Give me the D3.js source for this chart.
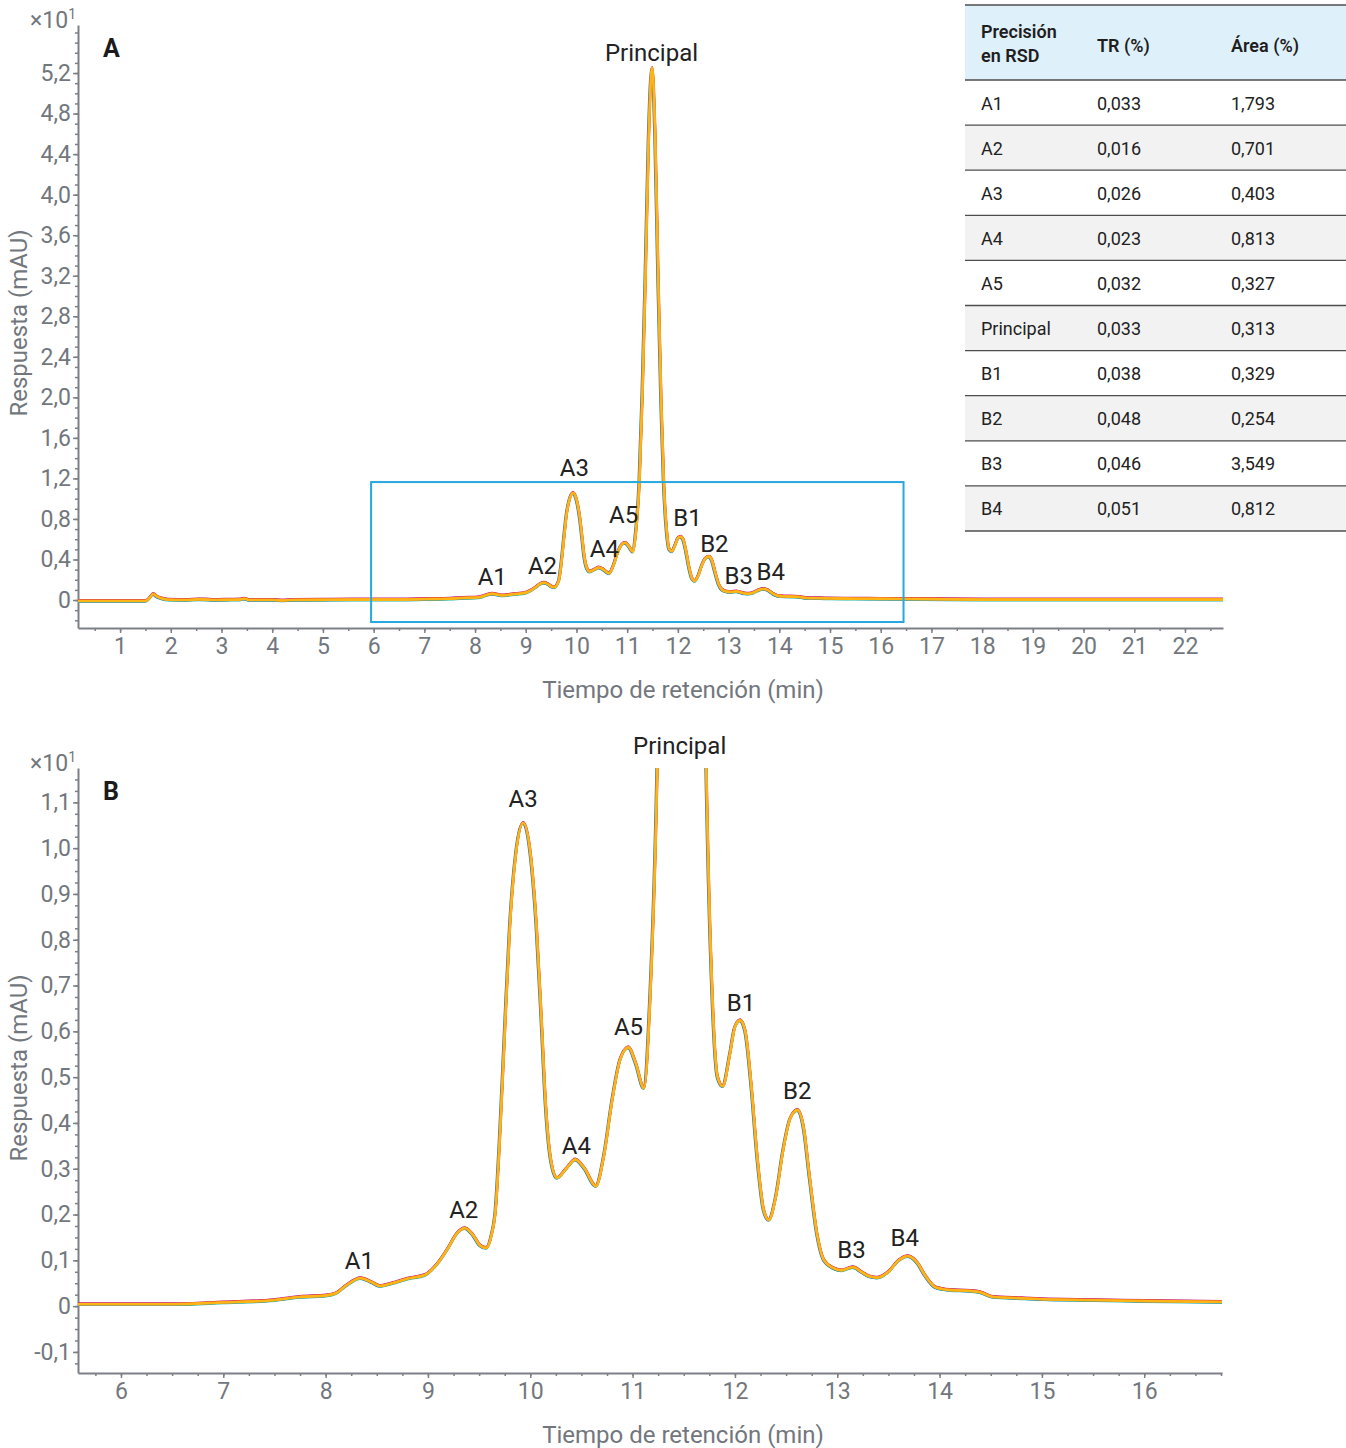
<html>

<head>
    <script src="https://cdn.jsdelivr.net/npm/d3@7/dist/d3.min.js" charset="utf-8"></script>
    <style>
        body { margin: 0; background: #fff; }
        text { font-family: Roboto, "Noto Sans", sans-serif; }
    </style>
</head>

<body>
    <script type="text/javascript">
        var width = 1346;
        var height = 1448;

        // Chromatogram (response in x10^1 mAU)
        var times = [0.17, 1.00, 1.50, 1.58, 1.65, 1.72, 1.82, 1.95, 2.30, 2.55, 2.70, 2.85, 3.20, 3.35, 3.45, 3.55,
            4.00, 4.20, 4.40, 5.00, 5.58, 6.50, 7.00, 7.50, 7.75, 8.00, 8.10, 8.20, 8.34, 8.45, 8.53, 8.65, 8.80,
            8.97, 9.10, 9.20, 9.28, 9.36, 9.44, 9.51, 9.57, 9.62, 9.66, 9.70, 9.75, 9.80, 9.86, 9.93, 10.00, 10.06,
            10.11, 10.15, 10.20, 10.26, 10.35, 10.44, 10.53, 10.64, 10.72, 10.80, 10.88, 10.96, 11.03, 11.11, 11.17,
            11.24, 11.30, 11.36, 11.42, 11.49, 11.55, 11.61, 11.67, 11.72, 11.78, 11.83, 11.88, 11.95, 12.00, 12.05,
            12.10, 12.16, 12.22, 12.28, 12.33, 12.40, 12.47, 12.54, 12.61, 12.67, 12.73, 12.80, 12.87, 12.96, 13.04,
            13.15, 13.24, 13.31, 13.39, 13.50, 13.60, 13.69, 13.78, 13.86, 13.96, 14.10, 14.30, 14.40, 14.52, 14.80,
            15.00, 15.50, 16.00, 16.80, 18.00, 20.00, 22.75];
        var response = [-0.010, -0.010, -0.010, 0.020, 0.060, 0.035, 0.015, 0.003, 0.000, 0.006, 0.004, 0.000, 0.003, 0.004, 0.012, 0.000,
            0.000, -0.005, 0.000, 0.002, 0.004, 0.004, 0.008, 0.013, 0.020, 0.023, 0.028, 0.045, 0.061, 0.052, 0.044, 0.050, 0.060,
            0.068, 0.095, 0.128, 0.158, 0.170, 0.155, 0.132, 0.127, 0.155, 0.210, 0.360, 0.600, 0.830, 0.990, 1.055, 0.990, 0.830,
            0.620, 0.440, 0.320, 0.280, 0.300, 0.320, 0.300, 0.262, 0.330, 0.450, 0.540, 0.565, 0.530, 0.476, 0.670,
            1.170, 2.050, 3.200, 4.500, 5.250, 4.600, 3.200, 1.950, 1.170, 0.670, 0.500, 0.480, 0.550, 0.610, 0.624,
            0.600, 0.480, 0.320, 0.210, 0.188, 0.240, 0.340, 0.410, 0.428, 0.390, 0.280, 0.160, 0.100, 0.083, 0.078,
            0.085, 0.074, 0.065, 0.062, 0.075, 0.100, 0.109, 0.095, 0.066, 0.041, 0.035, 0.033, 0.030, 0.020, 0.017,
            0.015, 0.013, 0.011, 0.009, 0.004, 0.004, 0.004];

        // Peak labels: name, time, response where the label sits (panel A / panel B)
        var peakNames = ["A1", "A2", "A3", "A4", "A5", "Principal", "B1", "B2", "B3", "B4"];
        var peakTimesA = [8.34, 9.33, 9.96, 10.55, 10.93, 11.48, 12.19, 12.72, 13.20, 13.83];
        var peakLabelA = [0.237, 0.345, 1.31, 0.513, 0.85, 5.40, 0.82, 0.56, 0.247, 0.286];
        var peakTimesB = [8.33, 9.35, 9.93, 10.45, 10.96, 11.46, 12.06, 12.61, 13.14, 13.66];
        var peakLabelB = [0.100, 0.212, 1.109, 0.352, 0.611, 1.225, 0.664, 0.472, 0.124, 0.151];

        // RSD table
        var tableHeader = [["Precisión", "en RSD"], ["TR (%)"], ["Área (%)"]];
        var trValues = ["0,033", "0,016", "0,026", "0,023", "0,032", "0,033", "0,038", "0,048", "0,046", "0,051"];
        var areaValues = ["1,793", "0,701", "0,403", "0,813", "0,327", "0,313", "0,329", "0,254", "3,549", "0,812"];

        // Axis ticks
        var xTicksA = d3.range(1, 23);
        var yTicksA = [0, 0.4, 0.8, 1.2, 1.6, 2.0, 2.4, 2.8, 3.2, 3.6, 4.0, 4.4, 4.8, 5.2];
        var xTicksB = [6, 7, 8, 9, 10, 11, 12, 13, 14, 15, 16];
        var yTicksB = [-0.1, 0, 0.1, 0.2, 0.3, 0.4, 0.5, 0.6, 0.7, 0.8, 0.9, 1.0, 1.1];
        var zoomTimes = [5.95, 16.45];
        var zoomResp = [-0.217, 1.164];

        var data = times.map((t, i) => ({ t: t, v: response[i] }));

        var axisColor = "#7c8086";
        var labelColor = "#72777d";

        var locale = d3.formatLocale({ decimal: ",", thousands: ".", grouping: [3], currency: ["", "€"], minus: "-" });
        var f1 = locale.format(".1f");
        var yFormat = d => d === 0 ? "0" : f1(d);

        // replicate injections drawn on top of each other
        var traces = [
            { color: "#19b2ad", dx: 0, dy: 0.7 },
            { color: "#1f78c1", dx: -0.8, dy: 0.3 },
            { color: "#c2237f", dx: 0, dy: -0.9 },
            { color: "#ec4430", dx: 0.4, dy: -0.5 },
            { color: "#f7901e", dx: 0.2, dy: -0.2 },
            { color: "#fdb515", dx: 0, dy: 0 }
        ];

        const svg = d3.select("body").append("svg")
            .attr("width", width)
            .attr("height", height);

        function drawPanel(cfg) {
            var x = d3.scaleLinear(cfg.xDomain, [cfg.left, cfg.right]);
            var y = d3.scaleLinear(cfg.yDomain, [cfg.bottom, cfg.top]);

            var g = svg.append("g");

            g.append("clipPath")
                .attr("id", cfg.id + "-clip")
                .append("rect")
                .attr("x", cfg.left)
                .attr("y", cfg.top)
                .attr("width", cfg.right - cfg.left)
                .attr("height", cfg.bottom - cfg.top);

            // minor ticks
            g.append("g")
                .attr("transform", `translate(0, ${cfg.bottom})`)
                .call(d3.axisBottom(x).tickValues(cfg.xMinor).tickSize(3).tickFormat(""))
                .call(a => a.select(".domain").remove())
                .call(a => a.selectAll("line").attr("stroke", axisColor).attr("stroke-width", 1.5));
            g.append("g")
                .attr("transform", `translate(${cfg.left}, 0)`)
                .call(d3.axisLeft(y).tickValues(cfg.yMinor).tickSize(3).tickFormat(""))
                .call(a => a.select(".domain").remove())
                .call(a => a.selectAll("line").attr("stroke", axisColor).attr("stroke-width", 1.5));

            var xAxis = d3.axisBottom(x).tickValues(cfg.xTicks).tickSize(5).tickSizeOuter(0).tickPadding(5);
            var yAxis = d3.axisLeft(y).tickValues(cfg.yTicks).tickFormat(yFormat).tickSize(5).tickSizeOuter(0).tickPadding(2);

            g.append("g")
                .attr("transform", `translate(0, ${cfg.bottom})`)
                .call(xAxis)
                .call(a => a.select(".domain").attr("stroke", axisColor).attr("stroke-width", 2))
                .call(a => a.selectAll("line").attr("stroke", axisColor).attr("stroke-width", 1.5))
                .call(a => a.selectAll("text").attr("fill", labelColor).style("font-size", "23px"));

            g.append("g")
                .attr("transform", `translate(${cfg.left}, 0)`)
                .call(yAxis)
                .call(a => a.select(".domain").attr("stroke", axisColor).attr("stroke-width", 2))
                .call(a => a.selectAll("line").attr("stroke", axisColor).attr("stroke-width", 1.5))
                .call(a => a.selectAll("text").attr("fill", labelColor).style("font-size", "23px"));

            // x10^1 multiplier
            var mult = g.append("text")
                .attr("x", cfg.left - 2)
                .attr("y", cfg.top + 3)
                .attr("text-anchor", "end")
                .attr("fill", labelColor)
                .style("font-size", "23px");
            mult.append("tspan").text("×10");
            mult.append("tspan").attr("dy", -9).style("font-size", "14px").text("1");

            // panel letter
            g.append("text")
                .attr("x", cfg.left + 25)
                .attr("y", cfg.top + 32)
                .attr("fill", "#1b1b1b")
                .style("font-size", "25px")
                .style("font-weight", "bold")
                .text(cfg.letter);

            // axis titles
            g.append("text")
                .attr("x", 683)
                .attr("y", cfg.bottom + 70)
                .attr("text-anchor", "middle")
                .attr("fill", labelColor)
                .style("font-size", "24px")
                .text("Tiempo de retención (min)");

            g.append("text")
                .attr("transform", `translate(27, ${cfg.titleY}) rotate(-90)`)
                .attr("text-anchor", "middle")
                .attr("fill", labelColor)
                .style("font-size", "24px")
                .text("Respuesta (mAU)");

            // traces
            var line = d3.line()
                .x(d => x(d.t))
                .y(d => y(d.v))
                .curve(d3.curveMonotoneX);

            var visible = data.filter(d => d.t >= cfg.xDomain[0] - 0.6 && d.t <= cfg.xDomain[1] + 0.6);

            g.append("g")
                .attr("clip-path", `url(#${cfg.id}-clip)`)
                .selectAll("path")
                .data(traces)
                .join("path")
                    .attr("d", line(visible))
                    .attr("transform", d => `translate(${d.dx}, ${d.dy})`)
                    .attr("fill", "none")
                    .attr("stroke", d => d.color)
                    .attr("stroke-width", (d, i) => i === traces.length - 1 ? 2.6 : 2.2)
                    .attr("stroke-linejoin", "round");

            // peak labels
            g.append("g")
                .selectAll("text")
                .data(peakNames)
                .join("text")
                    .attr("x", (d, i) => x(cfg.labelT[i]))
                    .attr("y", (d, i) => y(cfg.labelV[i]))
                    .attr("dy", "0.36em")
                    .attr("text-anchor", "middle")
                    .attr("fill", "#222")
                    .style("font-size", "24px")
                    .text(d => d);

            return { x: x, y: y, g: g };
        }

        var panelA = drawPanel({
            id: "a", letter: "A",
            left: 78, right: 1223, top: 25, bottom: 628,
            xDomain: [0.17, 22.75], yDomain: [-0.276, 5.674],
            xTicks: xTicksA, yTicks: yTicksA,
            xMinor: d3.range(0.5, 22.75, 0.5), yMinor: d3.range(-0.2, 5.65, 0.1),
            labelT: peakTimesA, labelV: peakLabelA,
            titleY: 323
        });

        // zoomed region shown in panel B
        panelA.g.append("rect")
            .attr("x", panelA.x(zoomTimes[0]))
            .attr("y", panelA.y(zoomResp[1]))
            .attr("width", panelA.x(zoomTimes[1]) - panelA.x(zoomTimes[0]))
            .attr("height", panelA.y(zoomResp[0]) - panelA.y(zoomResp[1]))
            .attr("fill", "none")
            .attr("stroke", "#27a7df")
            .attr("stroke-width", 2);

        drawPanel({
            id: "b", letter: "B",
            left: 78, right: 1222, top: 768, bottom: 1373,
            xDomain: [5.58, 16.76], yDomain: [-0.146, 1.175],
            xTicks: xTicksB, yTicks: yTicksB,
            xMinor: d3.range(5.75, 16.76, 0.25), yMinor: d3.range(-0.125, 1.17, 0.025),
            labelT: peakTimesB, labelV: peakLabelB,
            titleY: 1068
        });

        // RSD table
        var tbl = { left: 965, right: 1346, top: 5, headH: 75, rowH: 45.1, cols: [981, 1097, 1231] };
        var table = svg.append("g").attr("class", "rsd-table");

        table.append("rect")
            .attr("x", tbl.left).attr("y", tbl.top)
            .attr("width", tbl.right - tbl.left).attr("height", tbl.headH)
            .attr("fill", "#def0fa");

        var rowTop = i => tbl.top + tbl.headH + i * tbl.rowH;

        table.selectAll("rect.row")
            .data(peakNames)
            .join("rect")
                .attr("class", "row")
                .attr("x", tbl.left).attr("y", (d, i) => rowTop(i))
                .attr("width", tbl.right - tbl.left).attr("height", tbl.rowH)
                .attr("fill", (d, i) => i % 2 === 1 ? "#f2f2f2" : "#fff");

        table.selectAll("line.sep")
            .data(d3.range(peakNames.length + 2))
            .join("line")
                .attr("class", "sep")
                .attr("x1", tbl.left).attr("x2", tbl.right)
                .attr("y1", i => i === 0 ? tbl.top : rowTop(i - 1))
                .attr("y2", i => i === 0 ? tbl.top : rowTop(i - 1))
                .attr("stroke", "#4d4d4d")
                .attr("stroke-width", 1.3);

        tableHeader.forEach((lines, c) => {
            var txt = table.append("text")
                .attr("x", tbl.cols[c])
                .attr("y", tbl.top + tbl.headH / 2 + 7 - (lines.length - 1) * 12 + (lines.length === 1 ? 2 : 0))
                .attr("fill", "#1e1e1e")
                .style("font-size", "18px")
                .style("font-weight", "600");
            lines.forEach((l, k) => {
                txt.append("tspan").attr("x", tbl.cols[c]).attr("dy", k === 0 ? 0 : 24).text(l);
            });
        });

        [peakNames, trValues, areaValues].forEach((col, c) => {
            table.selectAll(`text.c${c}`)
                .data(col)
                .join("text")
                    .attr("class", `c${c}`)
                    .attr("x", tbl.cols[c])
                    .attr("y", (d, i) => rowTop(i) + tbl.rowH / 2 + 7)
                    .attr("fill", "#222")
                    .style("font-size", "18px")
                    .text(d => d);
        });
    </script>
</body>

</html>
